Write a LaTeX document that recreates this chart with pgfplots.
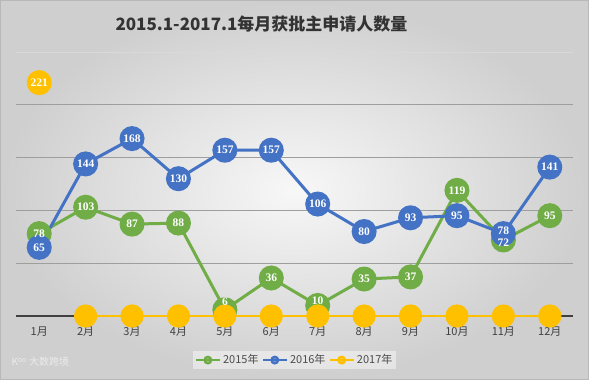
\documentclass[border=0pt]{standalone}
\usepackage{fontspec}
\usepackage{pgfplots}
\pgfplotsset{compat=1.18}
\usepackage{pgfplotstable}
\newfontfamily\cjk{Noto Sans CJK SC}
\newfontfamily\lbl{Liberation Serif}
\definecolor{g15}{HTML}{70AD47}
\definecolor{b16}{HTML}{4472C4}
\definecolor{y17}{HTML}{FFC000}
\pgfplotstableread{
m v
1 78
2 103
3 87
4 88
5 6
6 36
7 10
8 35
9 37
10 119
11 72
12 95
}\tA
\pgfplotstableread{
m v
1 65
2 144
3 168
4 130
5 157
6 157
7 106
8 80
9 93
10 95
11 78
12 141
}\tB
\pgfplotstableread{
m v
1 221
}\tCa
\pgfplotstableread{
m v
2 0
3 0
4 0
5 0
6 0
7 0
8 0
9 0
10 0
11 0
12 0
}\tCb
\begin{document}
\begin{tikzpicture}[x=1pt,y=1pt]
\useasboundingbox (0,0) rectangle (589,380);
\shade[inner color=white!97!black, outer color=black!19] (0,0) rectangle (589,380);
\draw[black!28, line width=0.8pt] (0.4,0.4) rectangle (588.6,379.6);
\node[font=\cjk\bfseries\fontsize{17}{19}\selectfont, text=black!80] at (261.5,356) {2015.1-2017.1每月获批主申请人数量};
\node[font=\cjk\fontsize{10}{12}\selectfont, text=white!92!black, anchor=west] at (8,18) {K\textsuperscript{oo} 大数跨境};
\begin{axis}[
  at={(16pt,64pt)}, anchor=south west,
  scale only axis, width=557pt, height=264pt,
  xmin=0.5, xmax=12.5, ymin=0, ymax=250,
  clip=false,
  axis line style={draw=none},
  major tick length=0pt,
  ytick={50,100,150,200}, yticklabels={},
  ymajorgrids, grid style={black!38, line width=0.7pt},
  xtick={1,...,12},
  xticklabels={1月,2月,3月,4月,5月,6月,7月,8月,9月,10月,11月,12月},
  xticklabel style={font=\cjk\fontsize{11}{13}\selectfont, text=black!75, yshift=-7pt},
  legend columns=3,
  legend style={at={(0.5,-0.167)}, anchor=center, draw=none, fill=white, fill opacity=0.45, text opacity=1,
    font=\cjk\fontsize{11}{13}\selectfont, text=black!70, inner sep=2pt,
    /tikz/every even column/.append style={column sep=1pt}},
  legend image code/.code={\draw[#1, mark repeat=2, mark phase=2, mark size=3.2pt, line width=2.5pt] plot coordinates {(0pt,0pt) (12pt,0pt) (24pt,0pt)};},
  every node near coord/.append style={anchor=center, text=white, font=\lbl\bfseries\fontsize{11.5}{12}\selectfont, inner sep=0pt},
]
\draw[black!15, line width=0.7pt] (axis cs:0.5,250) -- (axis cs:12.5,250);
\draw[black!75, line width=1.8pt] (axis cs:0.5,0) -- (axis cs:12.5,0);
\addplot[g15, line width=3pt, mark=*, mark size=11pt, mark options={fill=g15, draw=g15}] table[x=m,y=v]{\tA};
\addlegendentry{2015年}
\addplot[b16, line width=3pt, mark=*, mark size=11pt, mark options={fill=b16, draw=b16}] table[x=m,y=v]{\tB};
\addlegendentry{2016年}
\addplot[y17, line width=3pt, mark=*, mark size=11pt, mark options={fill=y17, draw=y17}] table[x=m,y=v]{\tCa};
\addlegendentry{2017年}
\addplot[y17, line width=1.2pt, mark=*, mark size=11pt, mark options={fill=y17, draw=y17}, forget plot] table[x=m,y=v]{\tCb};
% data labels (drawn on top of all markers)
\addplot[draw=none, mark=none, forget plot, nodes near coords, point meta=explicit symbolic,
  restrict x to domain=1:4] table[x=m,y=v,meta=v]{\tA};
\addplot[draw=none, mark=none, forget plot, nodes near coords, point meta=explicit symbolic,
  restrict x to domain=8:10] table[x=m,y=v,meta=v]{\tA};
\addplot[draw=none, mark=none, forget plot, nodes near coords, point meta=explicit symbolic,
  restrict x to domain=12:12] table[x=m,y=v,meta=v]{\tA};
\addplot[draw=none, mark=none, forget plot, nodes near coords, point meta=explicit symbolic,
  restrict x to domain=6:6] table[x=m,y=v,meta=v]{\tA};
\addplot[draw=none, mark=none, forget plot, nodes near coords, point meta=explicit symbolic,
  restrict x to domain=5:5, every node near coord/.append style={yshift=8pt}] table[x=m,y=v,meta=v]{\tA};
\addplot[draw=none, mark=none, forget plot, nodes near coords, point meta=explicit symbolic,
  restrict x to domain=7:7, every node near coord/.append style={yshift=5pt}] table[x=m,y=v,meta=v]{\tA};
\addplot[draw=none, mark=none, forget plot, nodes near coords, point meta=explicit symbolic,
  restrict x to domain=11:11, every node near coord/.append style={yshift=-3pt}] table[x=m,y=v,meta=v]{\tA};
\addplot[draw=none, mark=none, forget plot, nodes near coords, point meta=explicit symbolic,
  restrict x to domain=1:10] table[x=m,y=v,meta=v]{\tB};
\addplot[draw=none, mark=none, forget plot, nodes near coords, point meta=explicit symbolic,
  restrict x to domain=12:12] table[x=m,y=v,meta=v]{\tB};
\addplot[draw=none, mark=none, forget plot, nodes near coords, point meta=explicit symbolic,
  restrict x to domain=11:11, every node near coord/.append style={yshift=3pt}] table[x=m,y=v,meta=v]{\tB};
\addplot[draw=none, mark=none, forget plot, nodes near coords, point meta=explicit symbolic] table[x=m,y=v,meta=v]{\tCa};
\end{axis}
\end{tikzpicture}
\end{document}
